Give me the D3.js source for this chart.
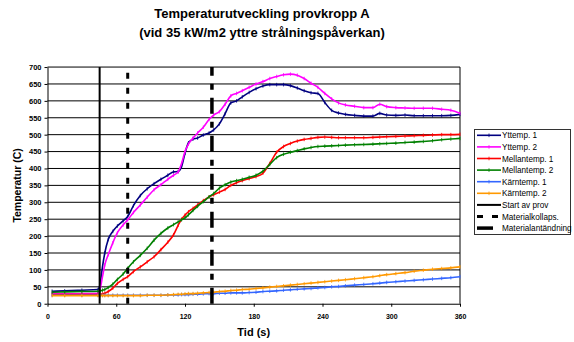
<!DOCTYPE html>
<html>
<head>
<meta charset="utf-8">
<script src="https://cdn.jsdelivr.net/npm/d3@7/dist/d3.min.js"></script>
<style>
  html, body { margin: 0; padding: 0; background: #fff; }
  svg { display: block; font-family: "Liberation Sans", Arial, sans-serif; }
</style>
</head>
<body>
<svg id="chart" width="574" height="342"></svg>
<script>
// Measurement times (s)
const times = [4, 15, 30, 44, 46, 48, 50, 53, 57, 61, 66, 70, 75, 81, 87, 93, 99, 105, 110, 114,
  117, 120, 123, 127, 131, 136, 141, 145, 150, 155, 160, 165, 170, 176, 182, 188, 194, 200, 206, 212,
  218, 224, 230, 236, 242, 248, 254, 260, 268, 276, 284, 290, 296, 304, 312, 320, 328, 336, 344, 352, 360];

// Temperatures (C)
const yttemp1 = [37, 38, 40, 42, 60, 110, 150, 190, 214, 230, 245, 258, 290, 320, 340, 355, 368, 380, 390, 391,
  405, 445, 476, 487, 490, 499, 505, 514, 532, 562, 594, 600, 612, 625, 636, 644, 648, 648, 648, 645,
  638, 630, 624, 622, 595, 572, 564, 560, 557, 555, 555, 563, 558, 557, 558, 556, 556, 556, 556, 557, 560];
const yttemp2 = [29, 29, 30, 31, 45, 80, 115, 145, 180, 210, 233, 248, 270, 292, 315, 337, 352, 368, 380, 390,
  415, 450, 472, 490, 505, 522, 545, 558, 568, 590, 615, 622, 630, 640, 650, 657, 666, 672, 677, 679,
  676, 666, 652, 640, 622, 606, 594, 588, 584, 580, 580, 590, 583, 580, 579, 578, 578, 578, 575, 572, 563];
const mellantemp1 = [27, 27, 27, 27, 28, 29, 31, 36, 46, 60, 72, 80, 95, 109, 124, 139, 160, 182, 204, 232,
  250, 262, 272, 282, 292, 305, 316, 322, 330, 338, 350, 358, 364, 370, 376, 386, 415, 448, 465, 474,
  481, 486, 489, 492, 493, 492, 491, 491, 491, 491, 492, 493, 494, 495, 496, 497, 498, 499, 500, 500, 501];
const mellantemp2 = [34, 35, 36, 37, 38, 40, 42, 48, 58, 72, 88, 105, 124, 143, 164, 188, 208, 224, 234, 242,
  248, 254, 263, 276, 288, 302, 316, 326, 342, 352, 360, 364, 368, 374, 380, 392, 412, 432, 442, 448,
  453, 458, 462, 465, 466, 467, 468, 469, 470, 471, 472, 473, 474, 475, 477, 478, 480, 482, 485, 487, 489];
const karntemp1 = [25, 25, 25, 25, 25, 25, 25, 25, 25, 25, 25, 25, 25, 25, 25, 25, 25, 26, 26, 26,
  27, 27, 27, 28, 28, 29, 30, 30, 31, 31, 32, 32, 32, 33, 34, 36, 37, 38, 40, 41,
  43, 44, 45, 47, 48, 50, 51, 53, 55, 57, 59, 61, 63, 65, 67, 69, 71, 73, 75, 77, 80];
const karntemp2 = [24, 24, 24, 24, 24, 24, 24, 24, 24, 24, 24, 24, 24, 24, 25, 25, 25, 26, 27, 28,
  28, 29, 30, 30, 31, 32, 33, 34, 36, 37, 39, 40, 42, 43, 45, 47, 49, 51, 53, 55,
  57, 59, 61, 63, 65, 67, 69, 71, 74, 77, 80, 83, 86, 89, 92, 96, 99, 102, 104, 106, 109];

const seriesNames = ["Yttemp. 1", "Yttemp. 2", "Mellantemp. 1", "Mellantemp. 2", "Kärntemp. 1", "Kärntemp. 2"];
const seriesValues = [yttemp1, yttemp2, mellantemp1, mellantemp2, karntemp1, karntemp2];
const seriesColors = ["#000080", "#ff00ff", "#ff0000", "#008000", "#3366ff", "#ff9900"];

// Test events (s)
const eventNames = ["Start av prov", "Materialkollaps.", "Materialantändning"];
const eventTimes = [45.5, 70, 143.5];
const eventWidths = [2, 3, 3.5];
const eventDashes = [null, "6,9", "16,8,6,8"];

const xTicks = [0, 60, 120, 180, 240, 300, 360];
const yTicks = d3.range(0, 701, 50);

const svg = d3.select("#chart");
const plot = { left: 47.5, right: 460, top: 67.05, bottom: 303.72 };

const x = d3.scaleLinear().domain([0, 360]).range([plot.left, plot.right]);
const y = d3.scaleLinear().domain([0, 700]).range([plot.bottom, plot.top]);

// Title
svg.append("text")
  .attr("x", 262).attr("y", 18)
  .attr("text-anchor", "middle")
  .style("font-size", "13px").style("font-weight", "bold")
  .text("Temperaturutveckling provkropp A");
svg.append("text")
  .attr("x", 262).attr("y", 36.5)
  .attr("text-anchor", "middle")
  .style("font-size", "13px").style("font-weight", "bold")
  .text("(vid 35 kW/m2 yttre strålningspåverkan)");

// Horizontal gridlines
svg.append("g")
  .selectAll("line")
  .data(yTicks.filter(d => d > 0))
  .join("line")
  .attr("x1", plot.left).attr("x2", plot.right)
  .attr("y1", d => y(d)).attr("y2", d => y(d))
  .attr("stroke", "#000").attr("stroke-width", 1);

// Plot area border on the right
svg.append("line")
  .attr("x1", plot.right).attr("x2", plot.right)
  .attr("y1", plot.top).attr("y2", plot.bottom)
  .attr("stroke", "#000").attr("stroke-width", 1);

// Axes
const yAxis = d3.axisLeft(y).tickValues(yTicks).tickSize(3).tickPadding(3).tickSizeOuter(0);
const xAxis = d3.axisBottom(x).tickValues(xTicks).tickSize(3).tickPadding(7).tickSizeOuter(0);

const gy = svg.append("g").attr("transform", `translate(${plot.left},0)`).call(yAxis);
gy.selectAll("text").style("font-size", "7.5px").style("font-weight", "bold").attr("fill", "#000");
gy.selectAll("line, path").attr("stroke", "#000");

const gx = svg.append("g").attr("transform", `translate(0,${plot.bottom})`).call(xAxis);
gx.selectAll("text").style("font-size", "7px").style("font-weight", "bold").attr("fill", "#000");
gx.selectAll("line, path").attr("stroke", "#000");

// Axis titles
svg.append("text")
  .attr("x", (plot.left + plot.right) / 2).attr("y", 336)
  .attr("text-anchor", "middle")
  .style("font-size", "11px").style("font-weight", "bold")
  .text("Tid (s)");
svg.append("text")
  .attr("transform", `translate(21,${(plot.top + plot.bottom) / 2}) rotate(-90)`)
  .attr("text-anchor", "middle")
  .style("font-size", "10.5px").style("font-weight", "bold")
  .text("Temperatur (C)");

// Temperature series
const line = d3.line().x(d => x(d[0])).y(d => y(d[1])).curve(d3.curveMonotoneX);
seriesValues.forEach((vals, i) => {
  const pts = times.map((t, j) => [t, vals[j]]);
  const g = svg.append("g");
  g.append("path")
    .datum(pts)
    .attr("d", line)
    .attr("fill", "none")
    .attr("stroke", seriesColors[i])
    .attr("stroke-width", 1.6)
    .attr("stroke-linejoin", "round");
  g.selectAll("line")
    .data(pts)
    .join("line")
    .attr("x1", d => x(d[0])).attr("x2", d => x(d[0]))
    .attr("y1", d => y(d[1]) - 1.8).attr("y2", d => y(d[1]) + 1.8)
    .attr("stroke", seriesColors[i]).attr("stroke-width", 0.8);
});

// Event markers
eventTimes.forEach((t, i) => {
  svg.append("line")
    .attr("x1", x(t)).attr("x2", x(t))
    .attr("y1", y(0)).attr("y2", y(700))
    .attr("stroke", "#000")
    .attr("stroke-width", eventWidths[i])
    .attr("stroke-dasharray", eventDashes[i]);
});

// Legend
const legend = svg.append("g");
legend.append("rect")
  .attr("x", 474.5).attr("y", 129.5)
  .attr("width", 96).attr("height", 105)
  .attr("fill", "#fff").attr("stroke", "#333").attr("stroke-width", 1);

const legendItems = seriesNames.map((n, i) => ({ name: n, color: seriesColors[i], width: 1.6, dash: null, marker: true }))
  .concat(eventNames.map((n, i) => ({ name: n, color: "#000", width: eventWidths[i], dash: eventDashes[i], marker: false })));

legendItems.forEach((it, i) => {
  const ly = 135.3 + i * 11.6;
  legend.append("line")
    .attr("x1", 477).attr("x2", 501)
    .attr("y1", ly).attr("y2", ly)
    .attr("stroke", it.color).attr("stroke-width", it.width)
    .attr("stroke-dasharray", it.dash);
  if (it.marker) {
    legend.append("line")
      .attr("x1", 489).attr("x2", 489)
      .attr("y1", ly - 1.8).attr("y2", ly + 1.8)
      .attr("stroke", it.color).attr("stroke-width", 0.8);
  }
  legend.append("text")
    .attr("x", 502).attr("y", ly + 3)
    .style("font-size", "8.2px")
    .text(it.name);
});
</script>
</body>
</html>
